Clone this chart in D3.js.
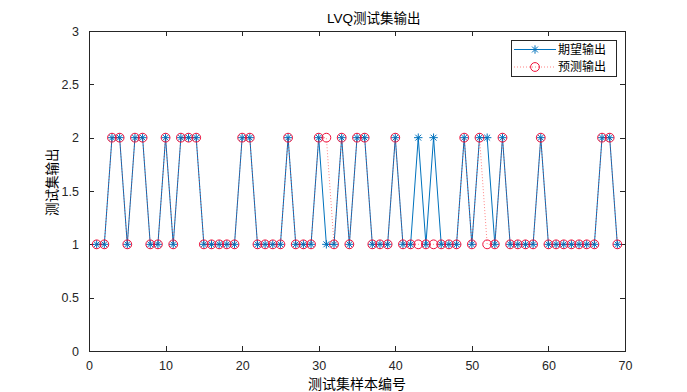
<!DOCTYPE html>
<html>
<head>
<meta charset="utf-8">
<script src="https://cdn.jsdelivr.net/npm/d3@7"></script>
<style>
html,body{margin:0;padding:0;background:#fff;}
svg{display:block;font-family:"Liberation Sans",Arial,sans-serif;}
</style>
</head>
<body>
<svg id="chart" width="687" height="392"></svg>
<script>
const sampleIndex = d3.range(1, 70);
const expectedOutput = [1,1,2,2,1,2,2,1,1,2, 1,2,2,2,1,1,1,1,1,2, 2,1,1,1,1,2,1,1,1,2,
  1,1,2,1,2,2,1,1,1,2, 1,1,2,1,2,1,1,1,2,1, 2,2,1,2,1,1,1,1,2,1, 1,1,1,1,1,1,2,2,1];
const predictedOutput = [1,1,2,2,1,2,2,1,1,2, 1,2,2,2,1,1,1,1,1,2, 2,1,1,1,1,2,1,1,1,2,
  2,1,2,1,2,2,1,1,1,2, 1,1,1,1,1,1,1,1,2,1, 2,1,1,2,1,1,1,1,2,1, 1,1,1,1,1,1,2,2,1];
const xTicks = [0,10,20,30,40,50,60,70];
const yTicks = [0,0.5,1,1.5,2,2.5,3];
const titleText = "LVQ测试集输出";
const xLabel = "测试集样本编号";
const yLabel = "测试集输出";
const legendLabels = ["期望输出","预测输出"];

const svg = d3.select("#chart");
const L = 89, R = 625, T = 31, B = 351;
const axisColor = "#262626";
const blue = "#0072BD", red = "#FF0000";
const x = d3.scaleLinear().domain([0,70]).range([L,R]);
const y = d3.scaleLinear().domain([0,3]).range([B,T]);

const g = svg.append("g");
g.append("rect").attr("x",L).attr("y",T).attr("width",R-L).attr("height",B-T)
  .attr("fill","#fff").attr("stroke",axisColor).attr("stroke-width",1).attr("shape-rendering","crispEdges");

const tickLen = 5;
const xAxis = d3.axisBottom(x).tickValues(xTicks).tickSizeInner(-tickLen).tickSizeOuter(0).tickPadding(10).tickFormat(d3.format("d"));
const gx = g.append("g").attr("transform",`translate(0,${B})`).call(xAxis);
const xTop = d3.axisTop(x).tickValues(xTicks).tickSizeInner(-tickLen).tickSizeOuter(0).tickFormat("");
const gxt = g.append("g").attr("transform",`translate(0,${T})`).call(xTop);
const yAxis = d3.axisLeft(y).tickValues(yTicks).tickSizeInner(-tickLen).tickSizeOuter(0).tickPadding(10).tickFormat(d => d3.format("")(d));
const gy = g.append("g").attr("transform",`translate(${L},0)`).call(yAxis);
const yRight = d3.axisRight(y).tickValues(yTicks).tickSizeInner(-tickLen).tickSizeOuter(0).tickFormat("");
const gyr = g.append("g").attr("transform",`translate(${R},0)`).call(yRight);
[gx,gxt,gy,gyr].forEach(a => {
  a.select(".domain").remove();
  a.selectAll("line").attr("stroke",axisColor).attr("shape-rendering","crispEdges");
  a.selectAll("text").attr("fill",axisColor).attr("font-size",12.5).attr("font-family","Liberation Sans, Arial, sans-serif");
});

const expData = sampleIndex.map((d,i)=>({x:d,y:expectedOutput[i]}));
const preData = sampleIndex.map((d,i)=>({x:d,y:predictedOutput[i]}));
const line = d3.line().x(d=>x(d.x)).y(d=>y(d.y));

g.append("path").datum(expData).attr("d",line).attr("fill","none").attr("stroke",blue).attr("stroke-width",1);
const starPath = (r) => `M0,${-r}V${r}M${-r},0H${r}M${-r*0.7},${-r*0.7}L${r*0.7},${r*0.7}M${-r*0.7},${r*0.7}L${r*0.7},${-r*0.7}`;
g.selectAll(".star").data(expData).enter().append("path").attr("class","star")
  .attr("transform",d=>`translate(${x(d.x)},${y(d.y)})`).attr("d",starPath(4.2))
  .attr("stroke",blue).attr("stroke-width",1).attr("fill","none");

g.append("path").datum(preData).attr("d",line).attr("fill","none").attr("stroke",red)
  .attr("stroke-width",0.8).attr("stroke-dasharray","1,2").attr("opacity",0.6);
g.selectAll(".circ").data(preData).enter().append("circle").attr("class","circ")
  .attr("cx",d=>x(d.x)).attr("cy",d=>y(d.y)).attr("r",4.4)
  .attr("fill","none").attr("stroke","#F0103A").attr("stroke-width",1);

svg.append("text").attr("x",327).attr("y",23).attr("font-size",13.5).attr("fill","#000")
  .attr("font-family","Liberation Sans, 'Noto Sans CJK SC', sans-serif").text(titleText);
svg.append("text").attr("x",(L+R)/2).attr("y",389).attr("text-anchor","middle").attr("font-size",14).attr("fill","#000")
  .attr("font-family","'Noto Sans CJK SC', sans-serif").text(xLabel);
svg.append("text").attr("transform","translate(57,216) rotate(-90)").attr("font-size",13.5).attr("fill","#000")
  .attr("font-family","'Noto Sans CJK SC', sans-serif").text(yLabel);

const lg = svg.append("g");
lg.append("rect").attr("x",511).attr("y",40).attr("width",105).attr("height",36)
  .attr("fill","#fff").attr("stroke",axisColor).attr("stroke-width",1).attr("shape-rendering","crispEdges");
const rows = [49.5, 67];
lg.append("line").attr("x1",514).attr("x2",556).attr("y1",rows[0]).attr("y2",rows[0]).attr("stroke",blue).attr("stroke-width",1);
lg.append("path").attr("transform",`translate(535,${rows[0]})`).attr("d",starPath(4.2)).attr("stroke",blue).attr("fill","none");
lg.append("line").attr("x1",514).attr("x2",556).attr("y1",rows[1]).attr("y2",rows[1]).attr("stroke",red)
  .attr("stroke-width",0.8).attr("stroke-dasharray","1,2").attr("opacity",0.6);
lg.append("circle").attr("cx",535).attr("cy",rows[1]).attr("r",4.4).attr("fill","none").attr("stroke","#F0103A");
legendLabels.forEach((t,i)=>{
  lg.append("text").attr("x",558).attr("y",rows[i]+4.3).attr("font-size",12).attr("fill","#000")
    .attr("font-family","'Noto Sans CJK SC', sans-serif").text(t);
});
</script>
</body>
</html>
